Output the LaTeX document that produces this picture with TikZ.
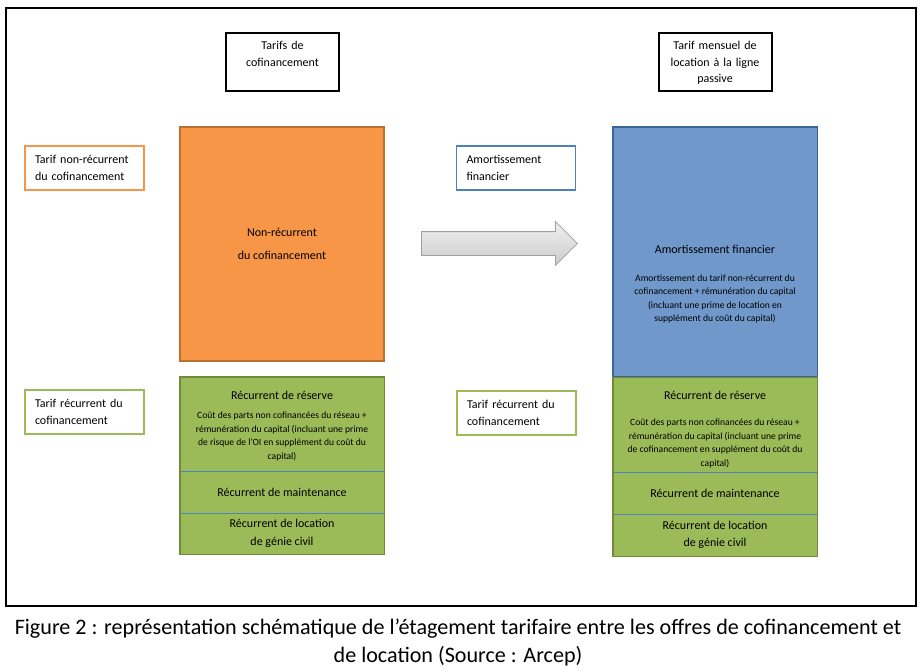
\documentclass[tikz,border=0pt]{standalone}
\usepackage{fontspec}
\setmainfont{Carlito}
\usepackage{xcolor}
\usepackage{tikz}
\usetikzlibrary{shapes.arrows, positioning, calc}
\definecolor{coforange}{HTML}{F79646}
\definecolor{coforangedk}{HTML}{B9712F}
\definecolor{locblue}{HTML}{7098CB}
\definecolor{locbluedk}{HTML}{3E6492}
\definecolor{recgreen}{HTML}{9BBB59}
\definecolor{recgreendk}{HTML}{6E8A3A}
\definecolor{lineblue}{HTML}{4F81BD}
\newcommand{\headfont}{\fontsize{12}{16.5}\selectfont}
\newcommand{\bodyfont}{\fontsize{9.6}{13.4}\selectfont}
\newcommand{\capfont}{\fontsize{22.1}{27.5}\selectfont}

\begin{document}
\begin{tikzpicture}[
    x=1pt, y=-1pt,
    titlebox/.style={rectangle, draw=black, line width=2pt, minimum width=113pt,
        text width=105pt, align=center, font=\headfont,
        inner xsep=4pt, inner ysep=4pt, text height=13pt, text depth=37pt},
    lbl/.style={rectangle, draw=#1, line width=1.6pt, fill=white,
        minimum height=44pt, text width=99pt, inner xsep=10pt, align=left,
        font=\headfont},
    blk/.style={rectangle, minimum width=204pt, inner sep=0pt, align=center,
        font=\headfont},
    headtxt/.style={inner sep=1pt, align=center, font=\headfont},
    bodytxt/.style={inner sep=1pt, align=center, font=\bodyfont},
    divider/.style={draw=lineblue, line width=0.6pt},
    caption/.style={align=center, font=\capfont, inner sep=0pt}
]
    \useasboundingbox (0,0) rectangle (921,670);
    \draw[line width=2pt] (6,8) rectangle (916,606);

    % column titles
    \node[titlebox] (tcof) at (282.5,61.5) {Tarifs de\\cofinancement};
    \node[titlebox] (tloc) at (715,61.5) {Tarif mensuel de\\location à la ligne\\passive};

    % side labels
    \node[lbl=coforange] (lnr) at (84.5,168) {Tarif non-récurrent\\du cofinancement};
    \node[lbl=lineblue] (lam) at (516,168) {Amortissement\\financier};
    \node[lbl=recgreen] (lrc) at (84.5,412) {Tarif récurrent du\\cofinancement};
    \node[lbl=recgreen] (lrl) at (516.5,413) {Tarif récurrent du\\cofinancement};

    % cofinancement stack
    \node[blk, fill=coforange, draw=coforangedk, line width=1.2pt, minimum height=234pt]
        (nonrec) at (282,244) {Non-récurrent\\[7pt]du cofinancement};
    \node[blk, fill=recgreen, minimum height=94pt] (res) at (282,424) {};
    \node[blk, fill=recgreen, minimum height=42pt] (maint) at (282,492) {Récurrent de maintenance};
    \node[blk, fill=recgreen, minimum height=41pt] (gc) at (282,533.5) {Récurrent de location\\[1pt]de génie civil};
    \node[headtxt, below=13pt of res.north] (reshead) {Récurrent de réserve};
    \node[bodytxt, below=10.5pt of reshead] (resbody)
        {Coût des parts non cofinancées du réseau +\\rémunération du capital (incluant une prime\\de risque de l’OI en supplément du coût du\\capital)};
    \draw[divider] (res.south west) -- (res.south east);
    \draw[divider] (maint.south west) -- (maint.south east);
    \draw[recgreendk, line width=1.4pt] (res.north west) rectangle (gc.south east);

    % arrow between the two offers
    \node[single arrow, draw=gray!75, line width=0.8pt, top color=gray!12, bottom color=gray!40,
        minimum width=43pt, single arrow head extend=10pt, minimum height=156pt,
        inner xsep=0pt, inner ysep=11.5pt, anchor=west] (shift) at (421,243.5) {};

    % location stack
    \node[blk, fill=locblue, minimum height=250pt] (amort) at (715,252) {};
    \node[headtxt, below=117pt of amort.north] (amhead) {Amortissement financier};
    \node[bodytxt, below=19pt of amhead] (ambody)
        {Amortissement du tarif non-récurrent du\\cofinancement + rémunération du capital\\(incluant une prime de location en\\supplément du coût du capital)};
    \draw[locbluedk, line width=1.4pt] (amort.south west) -- (amort.north west)
        -- (amort.north east) -- (amort.south east);
    \node[blk, fill=recgreen, minimum height=95pt] (res2) at (715,424.5) {};
    \node[blk, fill=recgreen, minimum height=42pt] (maint2) at (715,493) {Récurrent de maintenance};
    \node[blk, fill=recgreen, minimum height=42pt] (gc2) at (715,535) {Récurrent de location\\[1pt]de génie civil};
    \node[headtxt, below=13pt of res2.north] (reshead2) {Récurrent de réserve};
    \node[bodytxt, below=17.5pt of reshead2] (resbody2)
        {Coût des parts non cofinancées du réseau +\\rémunération du capital (incluant une prime\\de cofinancement en supplément du coût du\\capital)};
    \draw[divider] (res2.south west) -- (res2.south east);
    \draw[divider] (maint2.south west) -- (maint2.south east);
    \draw[recgreendk, line width=1.4pt] (res2.north west) rectangle (gc2.south east);
    \draw[locbluedk, line width=1pt] (res2.north west) -- (res2.north east);

    % caption
    \node[caption] (cap) at (458,642.5) {Figure 2 : représentation schématique de l’étagement tarifaire entre les offres de cofinancement et\\de location (Source : Arcep)};
\end{tikzpicture}
\end{document}
